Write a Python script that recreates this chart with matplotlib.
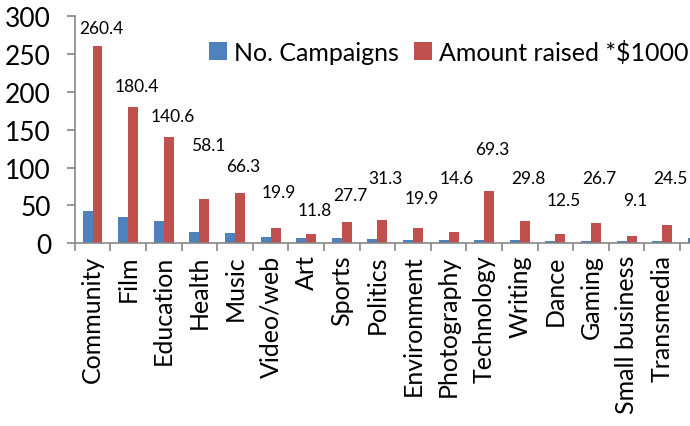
import numpy as np
import matplotlib.pyplot as plt

plt.rcParams['font.family'] = ['Lato', 'DejaVu Sans']

categories = ['Community', 'Film', 'Education', 'Health', 'Music', 'Video/web', 'Art',
              'Sports', 'Politics', 'Environment', 'Photography', 'Technology', 'Writing',
              'Dance', 'Gaming', 'Small business', 'Transmedia', '']
campaigns = [43, 35, 30, 15, 13, 8, 7, 7, 5.5, 4.5, 4.5, 4.5, 4, 3, 3, 3, 3, 6.5]
amount = [260.4, 180.4, 140.6, 58.1, 66.3, 19.9, 11.8, 27.7, 31.3, 19.9, 14.6, 69.3,
          29.8, 12.5, 26.7, 9.1, 24.5, 20.0]
# where the value labels sit (manually placed in the original)
label_y = [284, 208, 168, 130, 102, 68, 44, 64, 86, 60, 86, 125, 86, 57, 86, 57, 86]

blue = '#4F81BD'
red = '#C0504D'
axis_col = '#868686'

fig = plt.figure(figsize=(6.9, 4.27), dpi=100)
ax = fig.add_axes([74.7 / 690, 182.7 / 427, 641 / 690, 227 / 427])

x = np.arange(len(categories))
w = 0.28
ax.bar(x - w / 2, campaigns, w, color=blue, label='No. Campaigns')
ax.bar(x + w / 2, amount, w, color=red, label='Amount raised *$1000')

# last category is cut off by the picture edge, so no label for it
for i in range(len(label_y)):
    ax.text(x[i] + w / 2 + 0.1, label_y[i], f'{amount[i]:.1f}', ha='center', va='center',
            fontsize=12.5, color='black')

ax.set_xlim(-0.5, len(categories) - 0.5)
ax.set_ylim(0, 300)
ax.set_yticks(range(0, 301, 50))
ax.set_xticks(x)
ax.set_xticklabels(categories, rotation=90, fontsize=18)
ax.set_xticks(np.arange(-0.5, len(categories), 1), minor=True)
ax.tick_params(axis='x', which='major', length=0, pad=8)
ax.tick_params(axis='x', which='minor', length=5.5, width=1.2, color=axis_col, direction='out')
ax.tick_params(axis='y', length=6, width=1.2, color=axis_col, pad=11, labelsize=19)

for s in ['top', 'right']:
    ax.spines[s].set_visible(False)
for s in ['left', 'bottom']:
    ax.spines[s].set_color(axis_col)
    ax.spines[s].set_linewidth(1.2)

ax.legend(loc='upper right', bbox_to_anchor=(1.02, 0.94), bbox_transform=fig.transFigure,
          ncol=2, frameon=False, fontsize=18, handlelength=0.7, handleheight=0.7,
          handletextpad=0.3, columnspacing=0.6, borderaxespad=0.2)

fig.savefig('out.png', dpi=100)
